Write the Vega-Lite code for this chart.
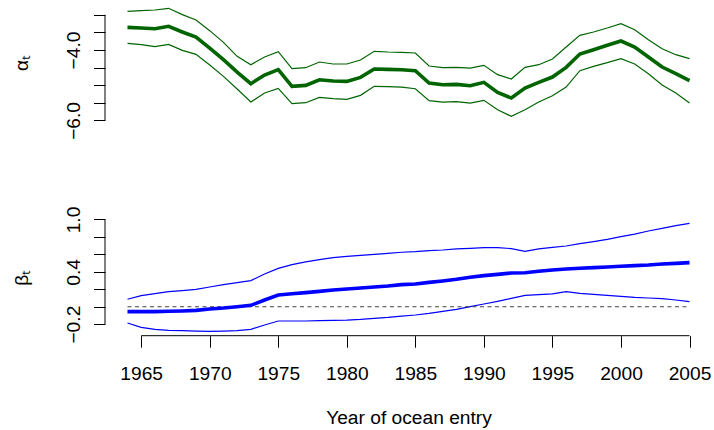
{
  "$schema": "https://vega.github.io/schema/vega-lite/v6.json",
  "padding": {"left": 12, "top": 4, "right": 0, "bottom": 0},
  "background": "white",
  "bounds": "flush",
  "spacing": 98,
  "config": {
    "view": {"stroke": null},
    "font": "Liberation Sans",
    "axis": {
      "domain": false, "grid": false, "tickColor": "#000", "tickWidth": 1, "tickSize": 11.5,
      "labelFont": "Liberation Sans", "labelFontSize": 19.2, "labelColor": "#000",
      "titleFont": "Liberation Sans", "titleFontSize": 19.2, "titleFontWeight": "normal", "titleColor": "#000",
      "labelFlush": false, "labelOverlap": false, "tickCount": 20
    },
    "axisY": {"labelAngle": -90, "labelAlign": "center", "labelBaseline": "bottom", "labelPadding": 10, "titlePadding": 33},
    "axisX": {"labelPadding": 17, "titlePadding": 25}
  },
  "datasets": {
    "alpha": [
      {"year": 1964, "lo": -3.809, "mean": -3.355, "hi": -2.899},
      {"year": 1965, "lo": -3.847, "mean": -3.374, "hi": -2.881},
      {"year": 1966, "lo": -3.904, "mean": -3.393, "hi": -2.862},
      {"year": 1967, "lo": -3.838, "mean": -3.326, "hi": -2.814},
      {"year": 1968, "lo": -4.009, "mean": -3.487, "hi": -2.994},
      {"year": 1969, "lo": -4.122, "mean": -3.629, "hi": -3.146},
      {"year": 1970, "lo": -4.425, "mean": -3.942, "hi": -3.449},
      {"year": 1971, "lo": -4.748, "mean": -4.274, "hi": -3.781},
      {"year": 1972, "lo": -5.108, "mean": -4.625, "hi": -4.179},
      {"year": 1973, "lo": -5.478, "mean": -4.956, "hi": -4.416},
      {"year": 1974, "lo": -5.222, "mean": -4.710, "hi": -4.198},
      {"year": 1975, "lo": -5.089, "mean": -4.558, "hi": -4.046},
      {"year": 1976, "lo": -5.525, "mean": -5.032, "hi": -4.530},
      {"year": 1977, "lo": -5.497, "mean": -5.004, "hi": -4.501},
      {"year": 1978, "lo": -5.345, "mean": -4.843, "hi": -4.340},
      {"year": 1979, "lo": -5.383, "mean": -4.881, "hi": -4.397},
      {"year": 1980, "lo": -5.402, "mean": -4.890, "hi": -4.397},
      {"year": 1981, "lo": -5.288, "mean": -4.776, "hi": -4.283},
      {"year": 1982, "lo": -5.032, "mean": -4.539, "hi": -4.037},
      {"year": 1983, "lo": -5.041, "mean": -4.549, "hi": -4.056},
      {"year": 1984, "lo": -5.051, "mean": -4.558, "hi": -4.065},
      {"year": 1985, "lo": -5.099, "mean": -4.587, "hi": -4.084},
      {"year": 1986, "lo": -5.440, "mean": -4.937, "hi": -4.454},
      {"year": 1987, "lo": -5.478, "mean": -4.985, "hi": -4.501},
      {"year": 1988, "lo": -5.468, "mean": -4.975, "hi": -4.492},
      {"year": 1989, "lo": -5.506, "mean": -5.013, "hi": -4.511},
      {"year": 1990, "lo": -5.430, "mean": -4.918, "hi": -4.435},
      {"year": 1991, "lo": -5.696, "mean": -5.203, "hi": -4.700},
      {"year": 1992, "lo": -5.885, "mean": -5.364, "hi": -4.824},
      {"year": 1993, "lo": -5.696, "mean": -5.080, "hi": -4.492},
      {"year": 1994, "lo": -5.478, "mean": -4.918, "hi": -4.416},
      {"year": 1995, "lo": -5.298, "mean": -4.767, "hi": -4.255},
      {"year": 1996, "lo": -5.051, "mean": -4.492, "hi": -3.914},
      {"year": 1997, "lo": -4.587, "mean": -4.113, "hi": -3.582},
      {"year": 1998, "lo": -4.463, "mean": -3.989, "hi": -3.487},
      {"year": 1999, "lo": -4.359, "mean": -3.866, "hi": -3.374},
      {"year": 2000, "lo": -4.245, "mean": -3.743, "hi": -3.250},
      {"year": 2001, "lo": -4.397, "mean": -3.914, "hi": -3.421},
      {"year": 2002, "lo": -4.672, "mean": -4.198, "hi": -3.705},
      {"year": 2003, "lo": -4.994, "mean": -4.482, "hi": -3.961},
      {"year": 2004, "lo": -5.222, "mean": -4.672, "hi": -4.132},
      {"year": 2005, "lo": -5.506, "mean": -4.871, "hi": -4.245}
    ],
    "beta": [
      {"year": 1964, "lo": -0.187, "mean": -0.057, "hi": 0.085},
      {"year": 1965, "lo": -0.237, "mean": -0.057, "hi": 0.127},
      {"year": 1966, "lo": -0.260, "mean": -0.057, "hi": 0.149},
      {"year": 1967, "lo": -0.271, "mean": -0.053, "hi": 0.172},
      {"year": 1968, "lo": -0.275, "mean": -0.049, "hi": 0.184},
      {"year": 1969, "lo": -0.279, "mean": -0.042, "hi": 0.199},
      {"year": 1970, "lo": -0.282, "mean": -0.026, "hi": 0.226},
      {"year": 1971, "lo": -0.279, "mean": -0.015, "hi": 0.253},
      {"year": 1972, "lo": -0.275, "mean": 0.000, "hi": 0.276},
      {"year": 1973, "lo": -0.260, "mean": 0.016, "hi": 0.299},
      {"year": 1974, "lo": -0.210, "mean": 0.077, "hi": 0.375},
      {"year": 1975, "lo": -0.164, "mean": 0.134, "hi": 0.440},
      {"year": 1976, "lo": -0.164, "mean": 0.149, "hi": 0.482},
      {"year": 1977, "lo": -0.164, "mean": 0.161, "hi": 0.513},
      {"year": 1978, "lo": -0.160, "mean": 0.176, "hi": 0.539},
      {"year": 1979, "lo": -0.156, "mean": 0.192, "hi": 0.562},
      {"year": 1980, "lo": -0.153, "mean": 0.203, "hi": 0.578},
      {"year": 1981, "lo": -0.145, "mean": 0.214, "hi": 0.589},
      {"year": 1982, "lo": -0.133, "mean": 0.226, "hi": 0.601},
      {"year": 1983, "lo": -0.122, "mean": 0.237, "hi": 0.612},
      {"year": 1984, "lo": -0.107, "mean": 0.253, "hi": 0.624},
      {"year": 1985, "lo": -0.095, "mean": 0.260, "hi": 0.631},
      {"year": 1986, "lo": -0.076, "mean": 0.279, "hi": 0.643},
      {"year": 1987, "lo": -0.053, "mean": 0.295, "hi": 0.650},
      {"year": 1988, "lo": -0.030, "mean": 0.314, "hi": 0.662},
      {"year": 1989, "lo": 0.000, "mean": 0.337, "hi": 0.669},
      {"year": 1990, "lo": 0.031, "mean": 0.356, "hi": 0.677},
      {"year": 1991, "lo": 0.062, "mean": 0.371, "hi": 0.677},
      {"year": 1992, "lo": 0.096, "mean": 0.386, "hi": 0.666},
      {"year": 1993, "lo": 0.130, "mean": 0.390, "hi": 0.635},
      {"year": 1994, "lo": 0.138, "mean": 0.406, "hi": 0.662},
      {"year": 1995, "lo": 0.146, "mean": 0.421, "hi": 0.681},
      {"year": 1996, "lo": 0.172, "mean": 0.432, "hi": 0.696},
      {"year": 1997, "lo": 0.153, "mean": 0.440, "hi": 0.723},
      {"year": 1998, "lo": 0.142, "mean": 0.448, "hi": 0.746},
      {"year": 1999, "lo": 0.130, "mean": 0.455, "hi": 0.772},
      {"year": 2000, "lo": 0.119, "mean": 0.463, "hi": 0.803},
      {"year": 2001, "lo": 0.107, "mean": 0.471, "hi": 0.833},
      {"year": 2002, "lo": 0.100, "mean": 0.478, "hi": 0.868},
      {"year": 2003, "lo": 0.092, "mean": 0.490, "hi": 0.899},
      {"year": 2004, "lo": 0.077, "mean": 0.497, "hi": 0.929},
      {"year": 2005, "lo": 0.058, "mean": 0.505, "hi": 0.956}
    ]
  },
  "vconcat": [
    {
      "width": 607,
      "height": 116.7,
      "layer": [
        {
          "data": {"name": "alpha"},
          "mark": {"type": "line", "color": "#006400", "strokeWidth": 1.2},
          "encoding": {
            "x": {"field": "year", "type": "quantitative", "scale": {"domain": [1962.36, 2006.64], "nice": false, "zero": false}, "axis": null},
            "y": {"field": "hi", "type": "quantitative", "scale": {"domain": [-6.008, -2.691], "nice": false, "zero": false},
                  "axis": {"title": "αₜ", "values": [-6, -5.5, -5, -4.5, -4, -3.5, -3], "tickCount": 20,
                           "labelExpr": "datum.value == -6 || datum.value == -4 ? format(datum.value, '.1f') : ''"}}
          }
        },
        {
          "data": {"name": "alpha"},
          "mark": {"type": "line", "color": "#006400", "strokeWidth": 1.2},
          "encoding": {
            "x": {"field": "year", "type": "quantitative", "axis": null},
            "y": {"field": "lo", "type": "quantitative"}
          }
        },
        {
          "data": {"name": "alpha"},
          "mark": {"type": "line", "color": "#006400", "strokeWidth": 3.6},
          "encoding": {
            "x": {"field": "year", "type": "quantitative", "axis": null},
            "y": {"field": "mean", "type": "quantitative"}
          }
        },
        {
          "data": {"values": [{"from": -6, "to": -3}]},
          "mark": {"type": "rule", "color": "#000", "strokeWidth": 1},
          "encoding": {
            "x": {"datum": 1962.36, "axis": null},
            "y": {"field": "from", "type": "quantitative"},
            "y2": {"field": "to"}
          }
        }
      ]
    },
    {
      "width": 607,
      "height": 116.7,
      "layer": [
        {
          "data": {"name": "beta"},
          "mark": {"type": "line", "color": "#0000FF", "strokeWidth": 1.2},
          "encoding": {
            "x": {"field": "year", "type": "quantitative", "scale": {"domain": [1962.36, 2006.64], "nice": false, "zero": false},
                  "axis": {"title": "Year of ocean entry", "values": [1965, 1970, 1975, 1980, 1985, 1990, 1995, 2000, 2005], "format": "d"}},
            "y": {"field": "hi", "type": "quantitative", "scale": {"domain": [-0.3325, 1.0055], "nice": false, "zero": false},
                  "axis": {"title": "βₜ", "values": [-0.2, 0, 0.2, 0.4, 0.6, 0.8, 1.0], "tickCount": 20,
                           "labelExpr": "datum.value == 1 || datum.value == 0.4 || datum.value == -0.2 ? format(datum.value, '.1f') : ''"}}
          }
        },
        {
          "data": {"name": "beta"},
          "mark": {"type": "line", "color": "#0000FF", "strokeWidth": 1.2},
          "encoding": {
            "x": {"field": "year", "type": "quantitative"},
            "y": {"field": "lo", "type": "quantitative"}
          }
        },
        {
          "data": {"values": [{"from": 1964, "to": 2005, "level": 0}]},
          "mark": {"type": "rule", "color": "#444", "strokeWidth": 1.1, "strokeDash": [4, 3.5]},
          "encoding": {
            "x": {"field": "from", "type": "quantitative"},
            "x2": {"field": "to"},
            "y": {"field": "level", "type": "quantitative"}
          }
        },
        {
          "data": {"name": "beta"},
          "mark": {"type": "line", "color": "#0000FF", "strokeWidth": 3.6},
          "encoding": {
            "x": {"field": "year", "type": "quantitative"},
            "y": {"field": "mean", "type": "quantitative"}
          }
        },
        {
          "data": {"values": [{"from": -0.2, "to": 1.0}]},
          "mark": {"type": "rule", "color": "#000", "strokeWidth": 1},
          "encoding": {
            "x": {"datum": 1962.36},
            "y": {"field": "from", "type": "quantitative"},
            "y2": {"field": "to"}
          }
        },
        {
          "data": {"values": [{"from": 1965, "to": 2005, "level": -0.3325}]},
          "mark": {"type": "rule", "color": "#000", "strokeWidth": 1},
          "encoding": {
            "x": {"field": "from", "type": "quantitative"},
            "x2": {"field": "to"},
            "y": {"field": "level", "type": "quantitative"}
          }
        }
      ]
    }
  ]
}
